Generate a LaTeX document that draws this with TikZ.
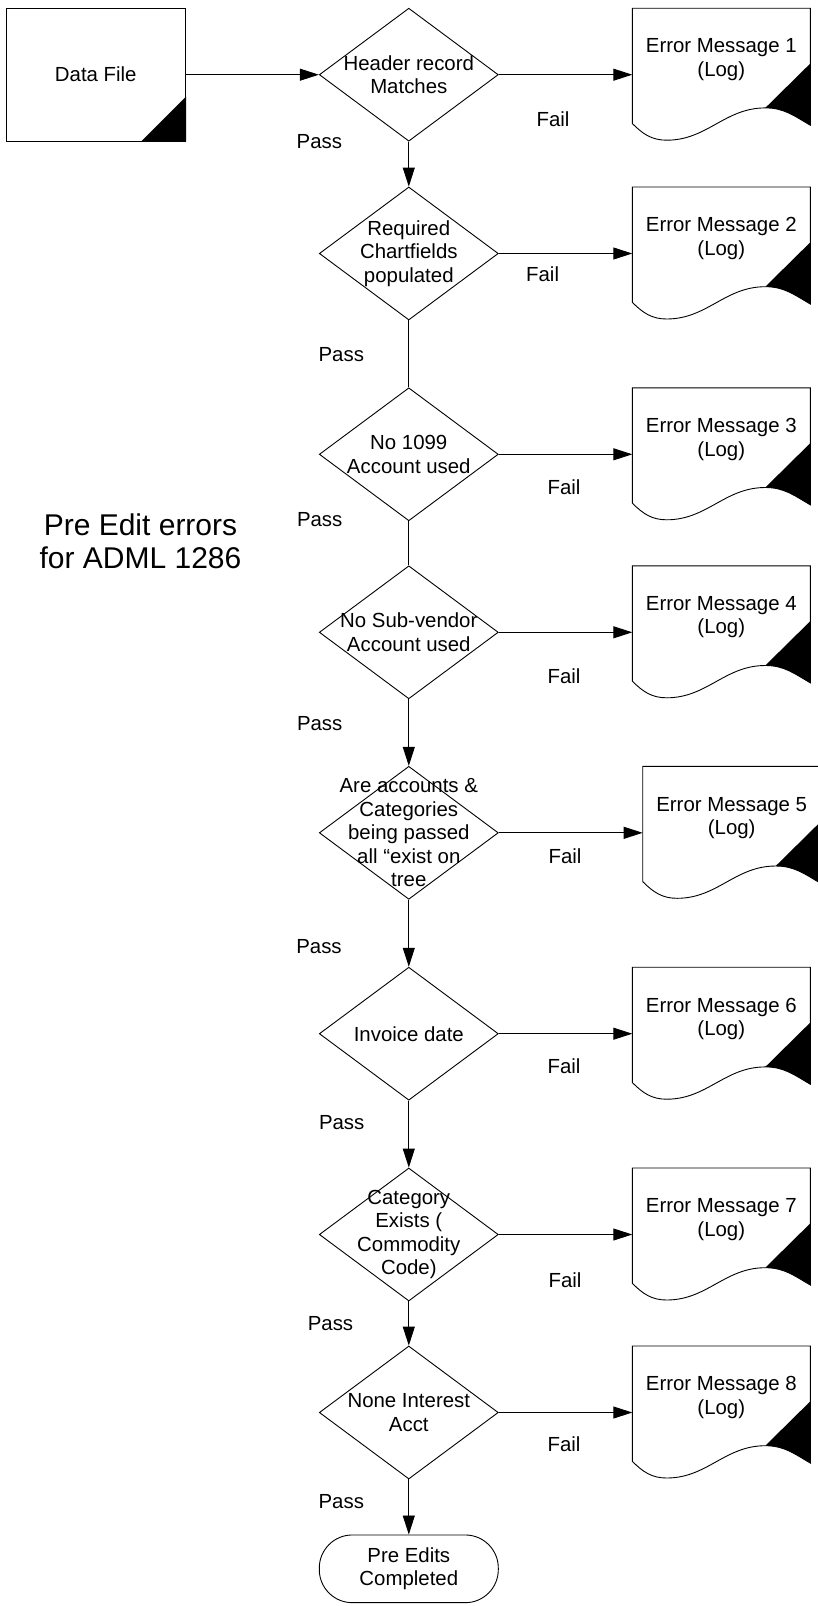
\documentclass[tikz,border=0pt]{standalone}
\usepackage{fontspec}
\setmainfont{Liberation Sans}
\usetikzlibrary{shapes.geometric,arrows.meta}

\begin{document}
\begin{tikzpicture}[x=1pt,y=1pt,line width=0.9pt,
    dtext/.style={align=center,inner sep=0pt,font=\fontsize{20.4}{23.4}\selectfont},
    decision/.style={diamond,draw,minimum width=179pt,minimum height=133pt,inner sep=0pt},
    logbox/.style={rectangle,minimum width=178pt,minimum height=133pt,inner sep=0pt,outer sep=0pt},
    flow/.style={-{Triangle[length=19pt,width=12pt]}}]
    \useasboundingbox (0,0) rectangle (817,-1606);
    \node[draw,dtext,minimum width=179.5pt,minimum height=133pt] (data) at (95.8,-74.7) {Data File};
    \fill (data.south east) -- ++(0,45) -- ([xshift=-45pt]data.south east) -- cycle;
    \node[dtext,font=\fontsize{30}{33.3}\selectfont] (title) at (140.5,-541.5) {Pre Edit errors\\for ADML 1286};
    \node[decision,label={[dtext]center:{Header record\\Matches}}] (d1) at (408.8,-74.7) {};
    \node[decision,label={[dtext]center:{Required\\Chartfields\\populated}}] (d2) at (408.8,-253.5) {};
    \node[decision,label={[dtext]center:{No 1099\\Account used}}] (d3) at (408.8,-454.3) {};
    \node[decision,label={[dtext]center:{No Sub-vendor\\Account used}}] (d4) at (408.8,-632.3) {};
    \node[decision,label={[dtext]center:{Are accounts \&\\Categories\\being passed\\all “exist on\\tree}}] (d5) at (408.8,-832.8) {};
    \node[decision,label={[dtext]center:{Invoice date}}] (d6) at (408.8,-1033.7) {};
    \node[decision,label={[dtext]center:{Category\\Exists (\\Commodity\\Code)}}] (d7) at (408.8,-1234.5) {};
    \node[decision,label={[dtext]center:{None Interest\\Acct}}] (d8) at (408.8,-1412.5) {};
    \node[draw,dtext,rounded corners=33pt,minimum width=179pt,minimum height=67.7pt] (done) at (408.8,-1568.8) {Pre Edits\\Completed};
    \foreach \i/\x/\y in {1/721.3/74.7,2/721.3/253.5,3/721.3/454.3,4/721.3/632.3,5/731.7/832.8,6/721.3/1033.7,7/721.3/1234.5,8/721.3/1412.5}{
      \node[logbox] (e\i) at (\x,-\y) {};
      \node[dtext] (t\i) at ([yshift=15pt]e\i.center) {Error Message \i\\(Log)};
      \draw (e\i.north west) ++(0,-115.3) -- (e\i.north west) -- (e\i.north east) -- ++(0,-117)
        to[out=150,in=0] ++(-45,17.3) to[out=180,in=0] ++(-98.6,-32.3) to[out=180,in=-45] ++(-34.4,16.7);
      \fill ([yshift=-55.3pt]e\i.north east) -- ++(-45,-44.4) to[out=0,in=150] ([yshift=-117pt]e\i.north east) -- cycle;
      \draw[flow] (d\i) -- (e\i);
    }
    \draw[flow] (data) -- (d1);
    \draw[flow] (d1) -- (d2);
    \draw (d2) -- (d3);
    \draw (d3) -- (d4);
    \draw[flow] (d4) -- (d5);
    \draw[flow] (d5) -- (d6);
    \draw[flow] (d6) -- (d7);
    \draw[flow] (d7) -- (d8);
    \draw[flow] (d8) -- (done);
    \node[dtext] (fail1) at (553,-119) {Fail};
    \node[dtext] (fail2) at (542.6,-274.4) {Fail};
    \node[dtext] (fail3) at (564,-487.7) {Fail};
    \node[dtext] (fail4) at (564,-676.5) {Fail};
    \node[dtext] (fail5) at (565,-856.5) {Fail};
    \node[dtext] (fail6) at (564,-1065.8) {Fail};
    \node[dtext] (fail7) at (565,-1280) {Fail};
    \node[dtext] (fail8) at (564,-1444.6) {Fail};
    \node[dtext] (pass1) at (319.4,-141.3) {Pass};
    \node[dtext] (pass2) at (341.3,-355) {Pass};
    \node[dtext] (pass3) at (319.7,-520) {Pass};
    \node[dtext] (pass4) at (319.7,-723.3) {Pass};
    \node[dtext] (pass5) at (319,-946.7) {Pass};
    \node[dtext] (pass6) at (341.7,-1122.3) {Pass};
    \node[dtext] (pass7) at (330.5,-1323.3) {Pass};
    \node[dtext] (pass8) at (341.3,-1501.7) {Pass};
  \end{tikzpicture}
\end{document}
